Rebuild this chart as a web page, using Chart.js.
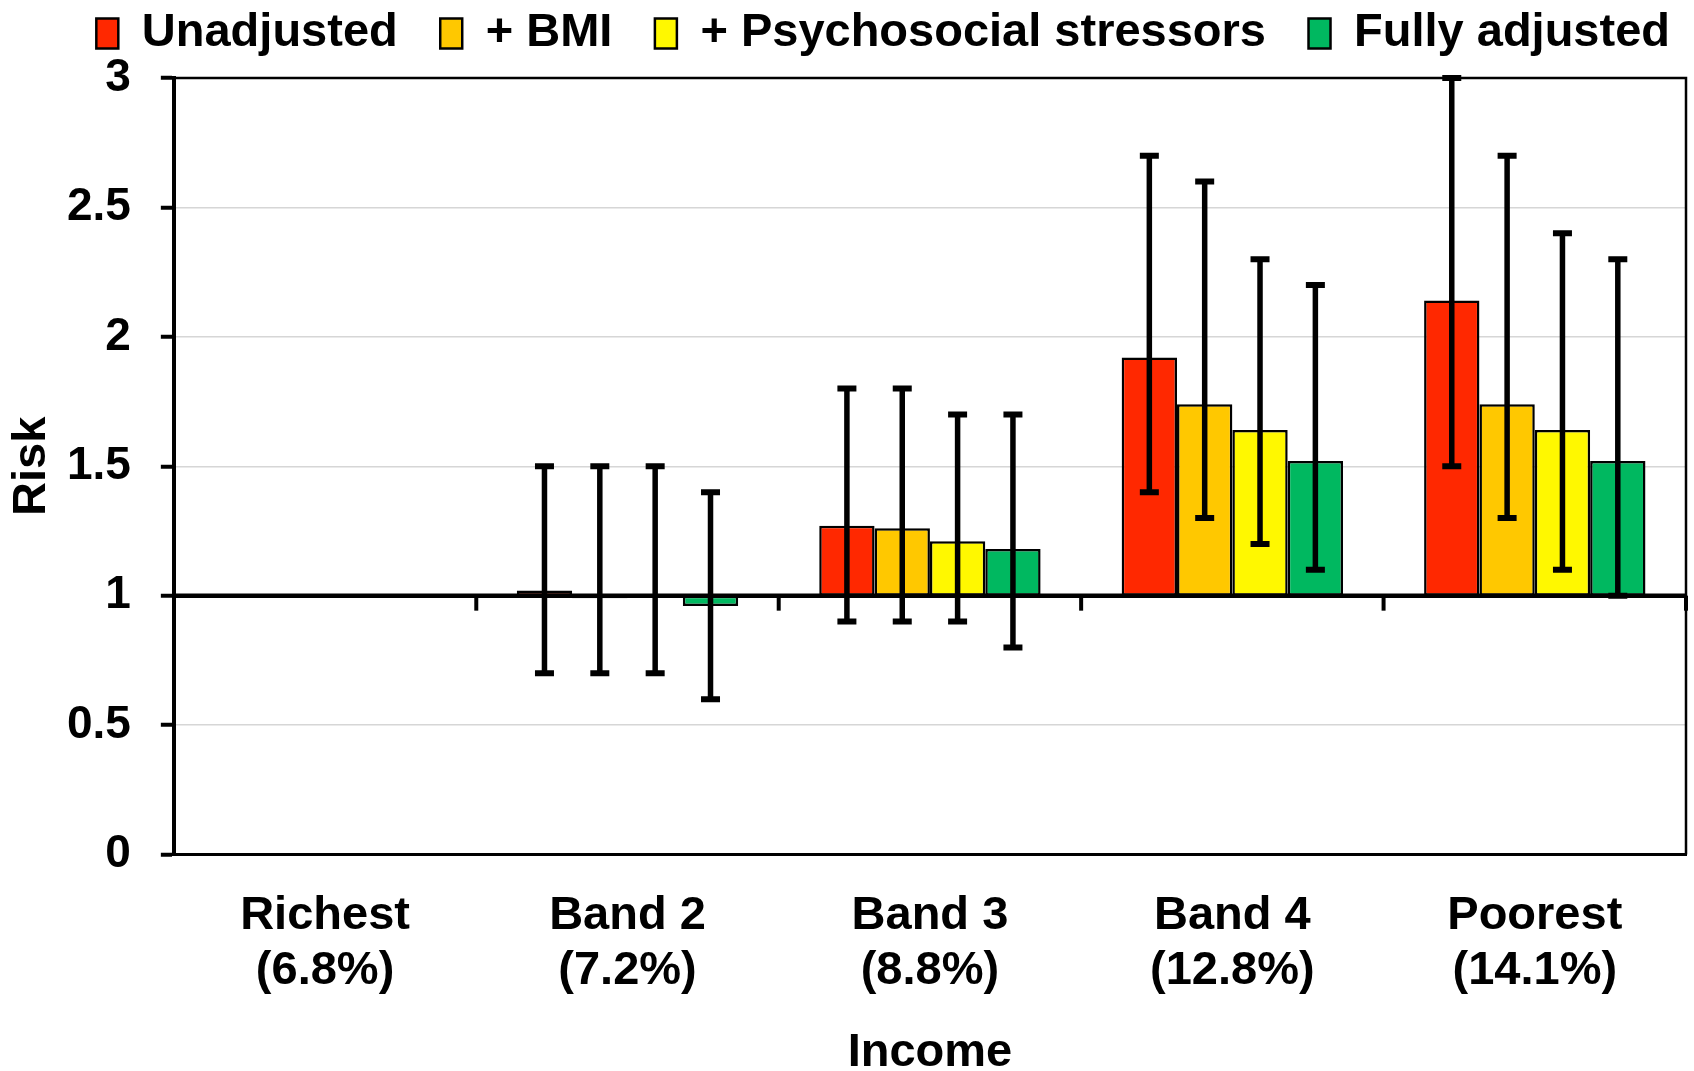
<!DOCTYPE html>
<html>
<head>
<meta charset="utf-8">
<script src="https://cdn.jsdelivr.net/npm/chart.js@4.4.1/dist/chart.umd.min.js"></script>
<style>
html,body{margin:0;padding:0;background:#fff;}
#wrap{width:1694px;height:1071px;position:relative;}
</style>
</head>
<body>
<div id="wrap"><canvas id="c"></canvas></div>
<script>
const categories = [["Richest","(6.8%)"],["Band 2","(7.2%)"],["Band 3","(8.8%)"],["Band 4","(12.8%)"],["Poorest","(14.1%)"]];
const seriesNames = ["Unadjusted","+ BMI","+ Psychosocial stressors","Fully adjusted"];
const seriesColors = ["#FF2800","#FFC800","#FFF800","#00B860"];
const referenceLevel = 1;

const unadjusted = [1, 1.02, 1.27, 1.92, 2.14];
const bmi        = [1, 0.99, 1.26, 1.74, 1.74];
const psych      = [1, 0.995, 1.21, 1.64, 1.64];
const full       = [1, 0.96, 1.18, 1.52, 1.52];

const unadjustedLow  = [null, 0.7, 0.9, 1.4, 1.5];
const unadjustedHigh = [null, 1.5, 1.8, 2.7, 3.0];
const bmiLow         = [null, 0.7, 0.9, 1.3, 1.3];
const bmiHigh        = [null, 1.5, 1.8, 2.6, 2.7];
const psychLow       = [null, 0.7, 0.9, 1.2, 1.1];
const psychHigh      = [null, 1.5, 1.7, 2.3, 2.4];
const fullLow        = [null, 0.6, 0.8, 1.1, 1.0];
const fullHigh       = [null, 1.4, 1.7, 2.2, 2.3];

const yTicks = [0, 0.5, 1, 1.5, 2, 2.5, 3];

const values = [unadjusted, bmi, psych, full];
const lows = [unadjustedLow, bmiLow, psychLow, fullLow];
const highs = [unadjustedHigh, bmiHigh, psychHigh, fullHigh];

const FONT = "'Liberation Sans', Arial, sans-serif";
const BIG = 47;

const datasets = values.map((vals, i) => ({
  label: seriesNames[i],
  data: vals.map(v => [referenceLevel, v]),
  backgroundColor: seriesColors[i],
  borderColor: '#000',
  borderWidth: 2.5,
  borderSkipped: false,
  categoryPercentage: 0.732,
  barPercentage: 1.0
}));

const legendShiftPlugin = {
  id: 'legendShift',
  afterLayout(chart) {
    const lg = chart.legend;
    if (!lg) return;
    lg.top -= 11; lg.bottom -= 11;
    lg.left += 26.5; lg.right += 26.5;
  }
};

const framePlugin = {
  id: 'frame',
  afterDatasetsDraw(chart) {
    const {ctx, chartArea: a, scales: {x, y}} = chart;
    ctx.save();
    ctx.strokeStyle = '#000';
    // reference line at 1
    const y1 = y.getPixelForValue(referenceLevel);
    ctx.lineWidth = 4.5;
    ctx.beginPath();
    ctx.moveTo(a.left, y1);
    ctx.lineTo(a.right, y1);
    ctx.stroke();
    // category boundary ticks on reference line
    ctx.lineWidth = 4;
    const n = categories.length;
    const step = x.getPixelForValue(1) - x.getPixelForValue(0);
    for (let i = 1; i <= n; i++) {
      const px = x.getPixelForValue(i - 1) + step / 2;
      ctx.beginPath();
      ctx.moveTo(px, y1);
      ctx.lineTo(px, y1 + 15);
      ctx.stroke();
    }
    // error bars
    chart.data.datasets.forEach((ds, di) => {
      const meta = chart.getDatasetMeta(di);
      meta.data.forEach((el, j) => {
        const lo = lows[di][j], hi = highs[di][j];
        if (lo == null || hi == null) return;
        const yl = y.getPixelForValue(lo), yh = y.getPixelForValue(hi);
        ctx.lineWidth = 5.5;
        ctx.beginPath();
        ctx.moveTo(el.x, yl);
        ctx.lineTo(el.x, yh);
        ctx.stroke();
        ctx.lineWidth = 6;
        ctx.beginPath();
        ctx.moveTo(el.x - 9.5, yl); ctx.lineTo(el.x + 9.5, yl);
        ctx.moveTo(el.x - 9.5, yh); ctx.lineTo(el.x + 9.5, yh);
        ctx.stroke();
      });
    });
    // top & right frame
    ctx.lineWidth = 2.5;
    ctx.beginPath();
    ctx.moveTo(a.left, a.top);
    ctx.lineTo(a.right, a.top);
    ctx.lineTo(a.right, a.bottom);
    ctx.stroke();
    ctx.restore();
  }
};

new Chart(document.getElementById('c'), {
  type: 'bar',
  data: { labels: categories, datasets },
  options: {
    responsive: true,
    maintainAspectRatio: false,
    animation: false,
    devicePixelRatio: 1,
    layout: { padding: { left: 4, right: 8, top: -21.5, bottom: -10 } },
    plugins: {
      legend: {
        position: 'top',
        align: 'end',
        labels: {
          font: { family: FONT, size: BIG, weight: 'bold' },
          color: '#000',
          boxWidth: 22,
          boxHeight: 30,
          padding: 42.5,
          generateLabels(chart) {
            return chart.data.datasets.map((ds, i) => ({
              text: ds.label,
              fillStyle: ds.backgroundColor,
              strokeStyle: '#000',
              lineWidth: 2.5,
              datasetIndex: i,
              hidden: false
            }));
          }
        }
      },
      tooltip: { enabled: false }
    },
    scales: {
      x: {
        grid: { display: false, drawTicks: false },
        border: { display: true, color: '#000', width: 3 },
        ticks: {
          font: { family: FONT, size: BIG, weight: 'bold', lineHeight: 1.15 },
          color: '#000',
          padding: 35,
          maxRotation: 0,
          autoSkip: false
        },
        title: {
          display: true,
          text: 'Income',
          font: { family: FONT, size: BIG, weight: 'bold' },
          color: '#000',
          padding: { top: -8, bottom: 0 }
        }
      },
      y: {
        min: 0,
        max: 3,
        afterBuildTicks(axis) { axis.ticks = yTicks.map(v => ({ value: v })); },
        grid: {
          color: ctx => (ctx.tick && (ctx.tick.value === referenceLevel || ctx.tick.value === 0 || ctx.tick.value === 3)) ? 'rgba(0,0,0,0)' : '#D6D6D6',
          lineWidth: 1.5,
          tickColor: '#000',
          tickLength: 13,
          tickWidth: 4
        },
        border: { display: true, color: '#000', width: 4 },
        ticks: {
          font: { family: FONT, size: 46, weight: 'bold' },
          color: '#000',
          padding: 30,
          callback: v => String(v)
        },
        title: {
          display: true,
          text: 'Risk',
          font: { family: FONT, size: BIG, weight: 'bold' },
          color: '#000',
          padding: { top: 0, bottom: -23.5 }
        }
      }
    }
  },
  plugins: [legendShiftPlugin, framePlugin]
});
</script>
</body>
</html>
